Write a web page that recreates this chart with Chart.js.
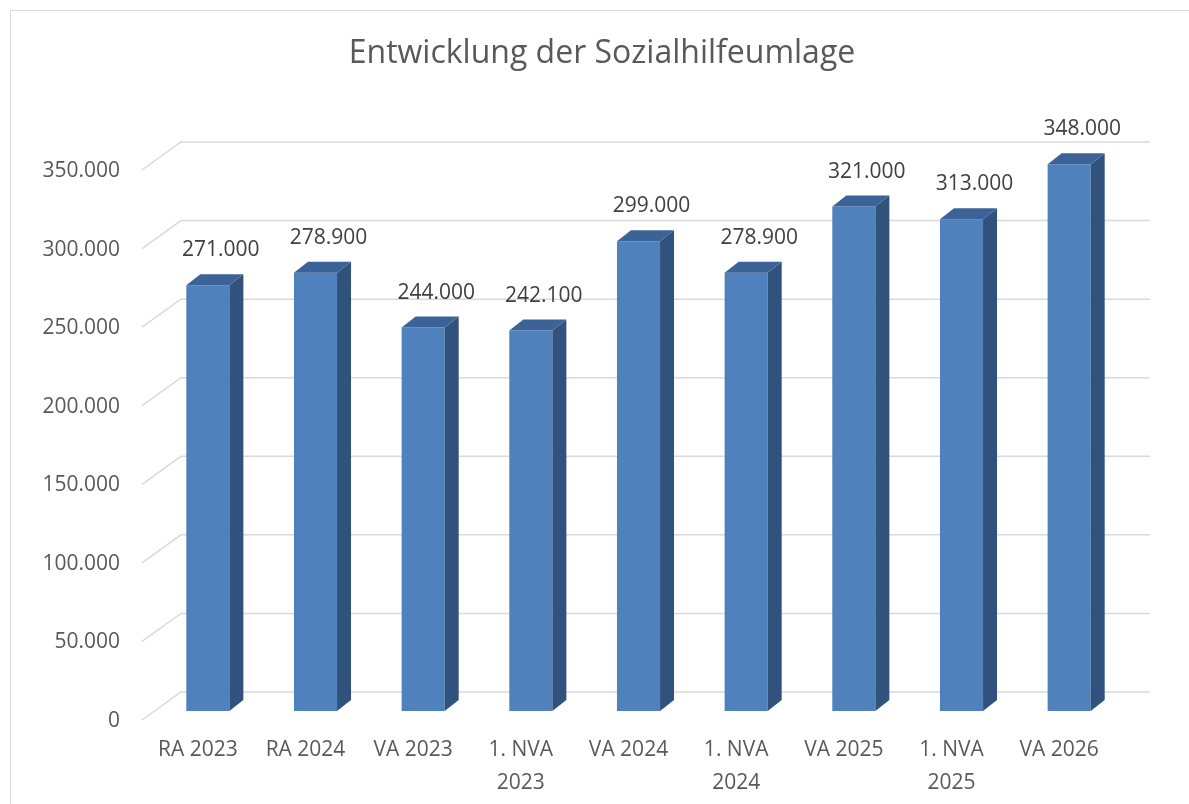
<!DOCTYPE html>
<html>
<head>
<meta charset="utf-8">
<script src="https://cdn.jsdelivr.net/npm/chart.js@4.4.0/dist/chart.umd.min.js"></script>
<style>
  body { margin: 0; background: #fff; }
  #chart { display: block; }
</style>
</head>
<body>
<canvas id="chart" width="1189" height="804"></canvas>
<script>
// data
const categories = ['RA 2023', 'RA 2024', 'VA 2023', ['1. NVA', '2023'], 'VA 2024',
                    ['1. NVA', '2024'], 'VA 2025', ['1. NVA', '2025'], 'VA 2026'];
const values = [271000, 278900, 244000, 242100, 299000, 278900, 321000, 313000, 348000];
const yTicks = [0, 50000, 100000, 150000, 200000, 250000, 300000, 350000];
const titleText = 'Entwicklung der Sozialhilfeumlage';

const FONT = '"Open Sans", "Noto Sans", sans-serif';
const DEPTH_X = 14, DEPTH_Y = 11; // bar depth
const WALL_X = 27, WALL_Y = 19;   // back wall offset
const FRONT_X = 12, FRONT_Y = 9;  // front edge of the floor

function fmt(v) {
    return String(v).replace(/\B(?=(\d{3})+(?!\d))/g, '.');
}

// border, title and 3D grid
const gridPlugin = {
    id: 'grid3d',
    beforeDraw(chart) {
        const ctx = chart.ctx;
        ctx.save();
        ctx.strokeStyle = '#d9d9d9';
        ctx.lineWidth = 1;
        ctx.strokeRect(10.5, 10.5, 1200, 820);
        ctx.fillStyle = '#595959';
        ctx.font = '32px ' + FONT;
        ctx.textAlign = 'center';
        ctx.textBaseline = 'middle';
        ctx.fillText(titleText, 602, 54);
        ctx.restore();
    },
    beforeDatasetsDraw(chart) {
        const ctx = chart.ctx;
        const area = chart.chartArea;
        const y = chart.scales.y;
        ctx.save();
        ctx.strokeStyle = '#d9d9d9';
        ctx.lineWidth = 1.5;
        yTicks.forEach(function(v) {
            const py = y.getPixelForValue(v);
            ctx.beginPath();
            ctx.moveTo(area.left - FRONT_X, py + FRONT_Y);
            ctx.lineTo(area.left + WALL_X, py - WALL_Y);
            ctx.lineTo(area.right + WALL_X, py - WALL_Y);
            ctx.stroke();
        });
        ctx.restore();
    },
    afterDatasetsDraw(chart) {
        const ctx = chart.ctx;
        const meta = chart.getDatasetMeta(0);
        ctx.save();
        meta.data.forEach(function(bar, i) {
            const p = bar.getProps(['x', 'y', 'base', 'width'], true);
            const l = p.x - p.width / 2, r = p.x + p.width / 2;
            // side
            ctx.fillStyle = '#31527d';
            ctx.beginPath();
            ctx.moveTo(r, p.y);
            ctx.lineTo(r + DEPTH_X, p.y - DEPTH_Y);
            ctx.lineTo(r + DEPTH_X, p.base - DEPTH_Y);
            ctx.lineTo(r, p.base);
            ctx.closePath();
            ctx.fill();
            // top
            ctx.fillStyle = '#3b6398';
            ctx.beginPath();
            ctx.moveTo(l, p.y);
            ctx.lineTo(l + DEPTH_X, p.y - DEPTH_Y);
            ctx.lineTo(r + DEPTH_X, p.y - DEPTH_Y);
            ctx.lineTo(r, p.y);
            ctx.closePath();
            ctx.fill();
            // value label
            ctx.fillStyle = '#404040';
            ctx.font = '21px ' + FONT;
            ctx.textAlign = 'center';
            ctx.textBaseline = 'middle';
            ctx.fillText(fmt(values[i]), p.x + 13, p.y - 35);
        });
        ctx.restore();
    }
};

new Chart(document.getElementById('chart'), {
    type: 'bar',
    data: {
        labels: categories,
        datasets: [{
            data: values,
            backgroundColor: '#4f81bd',
            borderWidth: 0,
            barPercentage: 0.4,
            categoryPercentage: 1
        }]
    },
    options: {
        responsive: false,
        animation: false,
        layout: { padding: { left: 0, right: 66, top: 161, bottom: 0 } },
        plugins: {
            legend: { display: false },
            tooltip: { enabled: false },
            title: { display: false }
        },
        scales: {
            x: {
                grid: { display: false, drawTicks: false },
                border: { display: false },
                ticks: {
                    color: '#595959',
                    font: { family: FONT, size: 21, lineHeight: 1.55 },
                    padding: 23,
                    labelOffset: -10,
                    maxRotation: 0,
                    autoSkip: false
                },
                afterFit(scale) { scale.height = 93; }
            },
            y: {
                min: 0,
                max: 350000,
                grid: { display: false, drawTicks: false },
                border: { display: false },
                ticks: {
                    stepSize: 50000,
                    color: '#595959',
                    font: { family: FONT, size: 21 },
                    padding: 34,
                    labelOffset: 10,
                    callback: function(v) { return fmt(v); }
                },
                afterFit(scale) { scale.width = 154; }
            }
        }
    },
    plugins: [gridPlugin]
});
</script>
</body>
</html>
